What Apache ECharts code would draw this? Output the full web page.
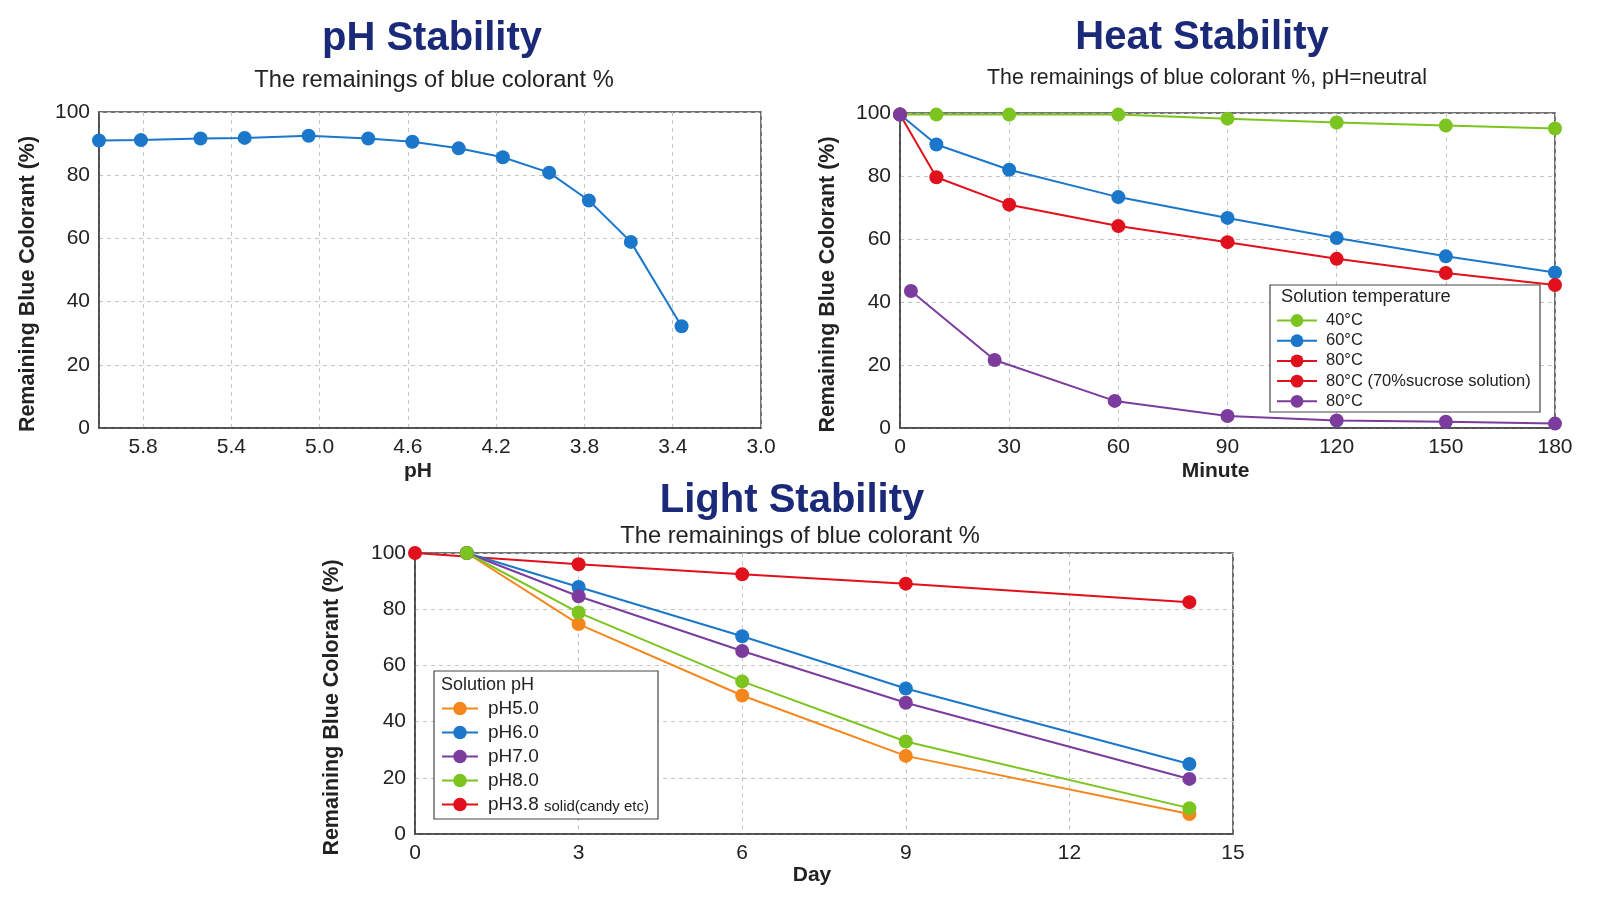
<!DOCTYPE html>
<html>
<head>
<meta charset="utf-8">
<title>Stability of blue colorant</title>
<script src="https://cdn.jsdelivr.net/npm/echarts@6/dist/echarts.min.js"></script>
<style>
  html, body { margin: 0; padding: 0; background: #fff; }
  #chart { width: 1600px; height: 910px; }
</style>
</head>
<body>
<div id="chart"></div>
<script>
// pH stability
const phValues = [6.00, 5.81, 5.54, 5.34, 5.05, 4.78, 4.58, 4.37, 4.17, 3.96, 3.78, 3.59, 3.36];
const phRemain = [91.0, 91.1, 91.6, 91.8, 92.5, 91.6, 90.6, 88.5, 85.7, 80.8, 72.0, 58.9, 32.2];

// heat stability (minutes)
const heatMinutes = [0, 10, 30, 60, 90, 120, 150, 180];
const heat40 = [99.5, 99.5, 99.5, 99.5, 98.2, 97.0, 96.0, 95.1];
const heat60 = [99.5, 90.0, 82.0, 73.3, 66.7, 60.3, 54.5, 49.4];
const heat80 = [99.5, 79.6, 70.9, 64.1, 59.0, 53.7, 49.2, 45.4];
const heat80SucroseMinutes = [];
const heat80Sucrose = [];
// purple set: a start reading at 0 min that is not joined to the rest
const heat80bStart = [0, 99.5];
const heat80bMinutes = [3, 26, 59, 90, 120, 150, 180];
const heat80b = [43.5, 21.6, 8.6, 3.8, 2.4, 2.0, 1.4];

// light stability (days)
const lightDays = [0.95, 3, 6, 9, 14.2];
const lightDaysSolid = [0, 3, 6, 9, 14.2];
const light50 = [100, 74.7, 49.3, 27.8, 7.1];
const light60 = [100, 87.9, 70.4, 51.8, 24.9];
const light70 = [100, 84.6, 65.1, 46.7, 19.6];
const light80 = [100, 78.8, 54.3, 32.9, 9.2];
const light38 = [100, 96.0, 92.4, 89.1, 82.5];

const FONT = '"Liberation Sans", Arial, sans-serif';
const NAVY = '#1b2a78';
const C = {
  green: '#7cc41f',
  blue: '#1b77c9',
  red: '#e0101d',
  purple: '#7b3c9e',
  orange: '#f5861c'
};

function zip(xs, ys) {
  return xs.map((x, i) => [x, ys[i]]);
}

function line(name, color, data, idx) {
  return {
    name: name,
    type: 'line',
    xAxisIndex: idx,
    yAxisIndex: idx,
    data: data,
    symbol: 'circle',
    symbolSize: 14,
    color: color,
    itemStyle: { color: color },
    lineStyle: { color: color, width: 2 },
    animation: false
  };
}

const splitLine = { show: true, lineStyle: { type: [4, 4], color: '#c4c4c4', width: 1 } };
const axisLabel = { fontSize: 21, color: '#222', fontFamily: FONT, margin: 9 };
const axisName = { fontSize: 21, fontWeight: 'bold', color: '#222', fontFamily: FONT, padding: [0, 24, 0, 0] };
const axisLine = { show: true, lineStyle: { color: '#444', width: 1.5 } };

function yAxis(idx, gap) {
  return {
    gridIndex: idx,
    type: 'value',
    min: 0, max: 100, interval: 20,
    name: 'Remaining Blue Colorant (%)',
    nameLocation: 'middle',
    nameGap: gap,
    nameTextStyle: Object.assign({}, axisName, { fontSize: 21.5, padding: [0, 28, 0, 0] }),
    axisLine: axisLine,
    axisTick: { show: false },
    axisLabel: axisLabel,
    splitLine: splitLine
  };
}

function txt(x, y, text, font, fill) {
  return {
    type: 'text', x: x, y: y, z: 10,
    style: {
      text: text, font: font, fill: fill || '#222',
      align: 'center', verticalAlign: 'middle',
      textAlign: 'center', textVerticalAlign: 'middle'
    }
  };
}

const chart = echarts.init(document.getElementById('chart'));

chart.setOption({
  backgroundColor: '#fff',
  textStyle: { fontFamily: FONT },
  grid: [
    { left: 99, top: 112, width: 662, height: 316, show: true, borderColor: '#444', borderWidth: 1.5, backgroundColor: '#fff' },
    { left: 900, top: 113, width: 655, height: 315, show: true, borderColor: '#444', borderWidth: 1.5, backgroundColor: '#fff' },
    { left: 415, top: 553, width: 818, height: 281, show: true, borderColor: '#444', borderWidth: 1.5, backgroundColor: '#fff' }
  ],
  xAxis: [
    {
      gridIndex: 0, type: 'value', inverse: true,
      min: 3, max: 6, interval: 0.4,
      name: 'pH', nameLocation: 'middle', nameGap: 33, nameTextStyle: axisName,
      axisLine: axisLine,
      axisTick: { show: false },
      axisLabel: Object.assign({}, axisLabel, {
        showMaxLabel: false,
        formatter: v => v.toFixed(1)
      }),
      splitLine: splitLine
    },
    {
      gridIndex: 1, type: 'value', min: 0, max: 180, interval: 30,
      name: 'Minute', nameLocation: 'middle', nameGap: 33, nameTextStyle: axisName,
      axisLine: axisLine,
      axisTick: { show: false },
      axisLabel: axisLabel,
      splitLine: splitLine
    },
    {
      gridIndex: 2, type: 'value', min: 0, max: 15, interval: 3,
      name: 'Day', nameLocation: 'middle', nameGap: 31, nameTextStyle: axisName,
      axisLine: axisLine,
      axisTick: { show: false },
      axisLabel: axisLabel,
      splitLine: splitLine
    }
  ],
  yAxis: [yAxis(0, 60), yAxis(1, 61), yAxis(2, 72)],
  legend: [
    {
      orient: 'vertical', left: 1276, top: 312, padding: 0,
      itemWidth: 40, itemHeight: 16, itemGap: 3.2,
      data: ['40°C', '60°C', '80°C', '80°C (70%sucrose solution)', '80°C '],
      formatter: n => n.trim(),
      textStyle: { fontSize: 16.5, color: '#222', fontFamily: FONT, padding: [0, 0, 0, 4] },
      selectedMode: false
    },
    {
      orient: 'vertical', left: 441, top: 699, padding: 0,
      itemWidth: 36, itemHeight: 17, itemGap: 5,
      data: ['pH5.0', 'pH6.0', 'pH7.0', 'pH8.0', 'pH3.8'],
      formatter: n => n === 'pH3.8' ? 'pH3.8 {s|solid(candy etc)}' : n,
      textStyle: {
        fontSize: 19, color: '#222', fontFamily: FONT, padding: [0, 0, 0, 5],
        rich: { s: { fontSize: 15, color: '#222', fontFamily: FONT, padding: [4, 0, 0, 0] } }
      },
      selectedMode: false
    }
  ],
  graphic: [
    txt(432, 39, 'pH Stability', 'bold 40px ' + FONT, NAVY),
    txt(434, 80, 'The remainings of blue colorant %', '23.7px ' + FONT),
    txt(1202, 38, 'Heat Stability', 'bold 40px ' + FONT, NAVY),
    txt(1207, 78, 'The remainings of blue colorant %, pH=neutral', '21.3px ' + FONT),
    txt(792, 501, 'Light Stability', 'bold 40px ' + FONT, NAVY),
    txt(800, 536, 'The remainings of blue colorant %', '23.7px ' + FONT),
    {
      type: 'rect', z: 3,
      shape: { x: 1270, y: 285, width: 270, height: 127 },
      style: { fill: '#fff', stroke: '#444', lineWidth: 1.2 }
    },
    {
      type: 'text', x: 1281, y: 297, z: 10,
      style: { text: 'Solution temperature', font: '18.3px ' + FONT, fill: '#222', align: 'left', verticalAlign: 'middle', textAlign: 'left', textVerticalAlign: 'middle' }
    },
    {
      type: 'rect', z: 3,
      shape: { x: 434, y: 671, width: 224, height: 148 },
      style: { fill: '#fff', stroke: '#444', lineWidth: 1.2 }
    },
    {
      type: 'text', x: 441, y: 685, z: 10,
      style: { text: 'Solution pH', font: '18px ' + FONT, fill: '#222', align: 'left', verticalAlign: 'middle', textAlign: 'left', textVerticalAlign: 'middle' }
    }
  ],
  series: [
    line('pH', C.blue, zip(phValues, phRemain), 0),

    line('40°C', C.green, zip(heatMinutes, heat40), 1),
    line('60°C', C.blue, zip(heatMinutes, heat60), 1),
    line('80°C', C.red, zip(heatMinutes, heat80), 1),
    line('80°C (70%sucrose solution)', C.red, zip(heat80SucroseMinutes, heat80Sucrose), 1),
    line('80°C ', C.purple, [heat80bStart, '-'].concat(zip(heat80bMinutes, heat80b)), 1),

    line('pH3.8', C.red, zip(lightDaysSolid, light38), 2),
    line('pH5.0', C.orange, zip(lightDays, light50), 2),
    line('pH6.0', C.blue, zip(lightDays, light60), 2),
    line('pH7.0', C.purple, zip(lightDays, light70), 2),
    line('pH8.0', C.green, zip(lightDays, light80), 2)
  ]
});
</script>
</body>
</html>
